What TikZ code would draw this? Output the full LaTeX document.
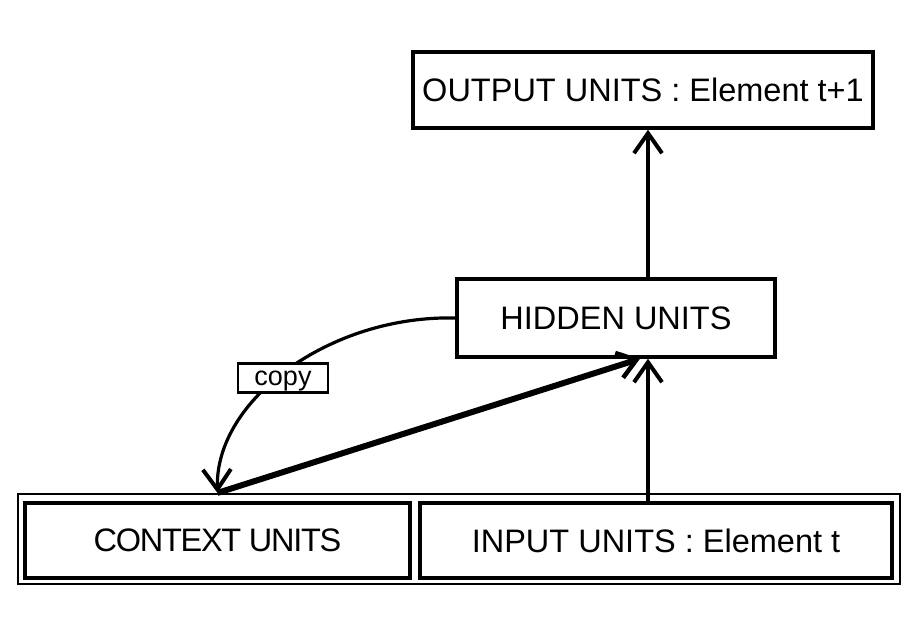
\documentclass[tikz,border=0pt]{standalone}
\usepackage{fontspec}
\setmainfont{Liberation Sans}
\usetikzlibrary{arrows.meta}
\begin{document}
\begin{tikzpicture}[x=1pt,y=-1pt,
  unitbox/.style={draw, line width=3.5pt, inner sep=0pt, font=\fontsize{32.5}{38}\selectfont},
  copybox/.style={draw, line width=2.5pt, fill=white, inner sep=0pt, minimum width=90pt, minimum height=29pt, text depth=0pt, font=\fontsize{27}{30}\selectfont},
  conn/.style={line width=3.2pt, -{Straight Barb[length=20pt,width=28pt,line width=4pt]}},
  thickconn/.style={line width=6pt, -{Straight Barb[length=18pt,width=26pt,line width=4.5pt]}}]
\useasboundingbox (0,0) rectangle (912,623);
\node[unitbox, minimum width=460pt, minimum height=76pt] (output) at (643,90) {OUTPUT UNITS : Element t+1};
\node[unitbox, minimum width=318pt, minimum height=78pt] (hidden) at (616,318) {HIDDEN UNITS};
\node[draw, line width=2.2pt, minimum width=882pt, minimum height=90pt, inner sep=0pt] (outer) at (459,539) {};
\node[unitbox, line width=4.5pt, minimum width=385pt, minimum height=75pt] (context) at (217.5,540.5) {\addfontfeature{LetterSpace=-4}CONTEXT UNITS};
\node[unitbox, line width=4.5pt, minimum width=472pt, minimum height=75pt] (input) at (656,540.5) {INPUT UNITS : Element t};
\draw[conn] ([xshift=32pt]hidden.north) -- ([xshift=32pt]hidden.north |- output.south);
\draw[conn] ([xshift=32pt]hidden.south |- input.north) -- ([xshift=32pt]hidden.south);
\draw[thickconn] (context.north |- outer.north) -- ([xshift=24pt]hidden.south);
\draw[conn] (hidden.west) .. controls (330,315) and (215,400) .. (context.north |- outer.north);
\node[copybox] (copy) at (283,378) {copy};
\end{tikzpicture}
\end{document}
